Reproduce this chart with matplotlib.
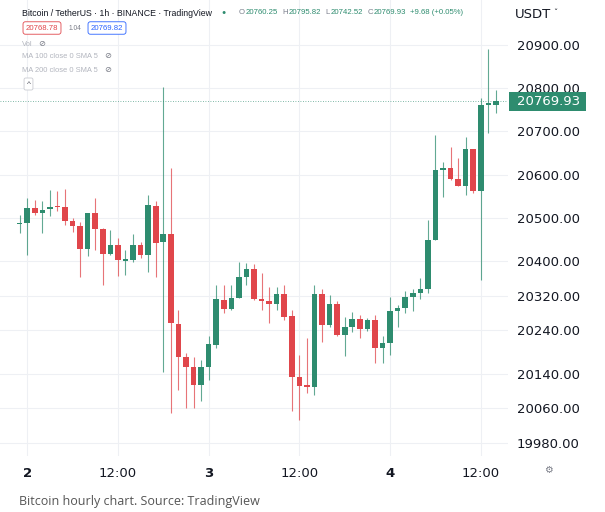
import matplotlib.pyplot as plt
import matplotlib.transforms as mtransforms
from matplotlib.patches import Rectangle
import numpy as np

# hourly candles (USDT)
opens = [20485, 20489, 20522, 20511, 20520, 20527, 20526, 20493, 20482, 20427,
         20511, 20474, 20416, 20437, 20401, 20403, 20437, 20415, 20528, 20444,
         20462, 20255, 20179, 20155, 20113, 20155, 20207, 20311, 20290, 20315,
         20364, 20383, 20312, 20308, 20302, 20324, 20272, 20133, 20113, 20110,
         20324, 20253, 20300, 20230, 20247, 20266, 20242, 20264, 20198, 20211,
         20285, 20292, 20318, 20327, 20335, 20449, 20612, 20616, 20589, 20574,
         20659, 20563, 20762, 20760.25]
highs = [20507, 20545, 20541, 20539, 20565, 20562, 20568, 20500, 20490, 20512,
         20545, 20476, 20472, 20453, 20426, 20462, 20444, 20553, 20538, 20803,
         20615, 20287, 20188, 20178, 20171, 20227, 20345, 20345, 20345, 20397,
         20396, 20393, 20372, 20340, 20340, 20345, 20287, 20183, 20223, 20345,
         20335, 20322, 20308, 20271, 20283, 20275, 20268, 20275, 20227, 20316,
         20299, 20332, 20335, 20360, 20495, 20692, 20630, 20665, 20638, 20688,
         20660, 20777, 20890, 20795.82]
lows = [20465, 20414, 20507, 20464, 20505, 20516, 20484, 20468, 20364, 20413,
        20426, 20346, 20414, 20366, 20368, 20399, 20407, 20376, 20363, 20144,
        20049, 20102, 20061, 20061, 20077, 20125, 20198, 20281, 20288, 20314,
        20345, 20310, 20287, 20256, 20287, 20265, 20053, 20032, 20094, 20090,
        20214, 20247, 20227, 20181, 20237, 20223, 20239, 20164, 20164, 20183,
        20248, 20279, 20285, 20312, 20327, 20449, 20549, 20588, 20574, 20553,
        20557, 20356, 20696, 20742.52]
closes = [20489, 20524, 20511, 20518, 20525, 20525, 20494, 20482, 20427, 20511,
          20474, 20416, 20437, 20402, 20405, 20437, 20414, 20529, 20443, 20462,
          20256, 20179, 20156, 20113, 20155, 20208, 20312, 20290, 20314, 20364,
          20383, 20312, 20308, 20302, 20324, 20271, 20133, 20112, 20110, 20324,
          20252, 20300, 20229, 20247, 20266, 20242, 20264, 20198, 20211, 20285,
          20292, 20318, 20327, 20335, 20449, 20612, 20616, 20589, 20574, 20659,
          20563, 20761, 20766, 20769.93]

price_ticks = [20900, 20800, 20700, 20600, 20500, 20400, 20320, 20240, 20140, 20060, 19980]
date_pos = [1, 13, 25, 37, 49, 61]
date_labels = ["2", "12:00", "3", "12:00", "4", "12:00"]
last_price = 20769.93
bid, ask, spread = "20768.78", "20769.82", "1.04"
ohlc_keys = ["O", "H", "L", "C"]
ohlc_vals = ["20760.25", "20795.82", "20742.52", "20769.93"]
change = "+9.68 (+0.05%)"

UP = "#2e8c6f"
DOWN = "#e0464b"
GRID = "#eef0f4"
TXT = "#131722"
SCALE_FONT = ["DejaVu Sans"]

plt.rcParams["font.family"] = ["Liberation Sans", "DejaVu Sans"]

fig = plt.figure(figsize=(6.05, 5.12), dpi=100)
ax = fig.add_axes([0, 1 - 456 / 512, 508 / 605, 456 / 512])

o = np.array(opens)
h = np.array(highs)
l = np.array(lows)
c = np.array(closes)
x = np.arange(len(o))
up = c >= o
cols = np.where(up, UP, DOWN)

ax.vlines(x, l, h, colors=cols, linewidth=0.8, alpha=0.75, zorder=3)
body_lo = np.minimum(o, c)
body_h = np.maximum(np.abs(c - o), 2.3)
ax.bar(x, body_h, bottom=body_lo, width=0.74, color=cols, linewidth=0, zorder=4)

ax.set_xlim(-2.6, 64.6)
ax.set_ylim(19949.3, 21004.1)

for p in price_ticks:
    ax.axhline(p, color=GRID, linewidth=0.8, zorder=0)
for d in date_pos:
    ax.axvline(d, color=GRID, linewidth=0.8, zorder=0)

ax.axhline(last_price, color=UP, linewidth=0.6, linestyle=(0, (1, 2)), alpha=0.8, zorder=2)

for s in ax.spines.values():
    s.set_visible(False)

ax.yaxis.tick_right()
ax.set_yticks(price_ticks)
ax.set_yticklabels([f"{p:.2f}" for p in price_ticks], fontsize=9.5, color=TXT, family=SCALE_FONT)
ax.tick_params(axis="y", length=0, pad=6.5)

ax.set_xticks(date_pos)
ax.set_xticklabels(date_labels, fontsize=9.5, color=TXT, family=SCALE_FONT)
ax.tick_params(axis="x", length=0, pad=8)
for lab in ax.get_xticklabels():
    if ":" not in lab.get_text():
        lab.set_fontweight("bold")

# last price box on the price scale
tr = mtransforms.blended_transform_factory(ax.transAxes, ax.transData)
ax.add_patch(Rectangle((1.002, last_price), 77 / 508, 1, transform=tr, clip_on=False,
                       facecolor="none", edgecolor="none"))
box_h = 19 * (21004.1 - 19949.3) / 456
ax.add_patch(Rectangle((1.002, last_price - box_h / 2), 77 / 508, box_h, transform=tr,
                       clip_on=False, facecolor=UP, edgecolor="none", zorder=9))
ax.text(1 + 9 / 508, last_price, f"{last_price:.2f}", transform=tr, ha="left", va="center",
        fontsize=9.5, color="white", zorder=10, clip_on=False, family=SCALE_FONT)

# header
hy = 1 - 13 / 512
fig.text(22 / 605, hy, "Bitcoin / TetherUS · 1h · BINANCE · TradingView",
         fontsize=6.3, color=TXT, va="center")
fig.text(224 / 605, 1 - 12 / 512, "●", fontsize=5, color=UP, va="center", ha="center")

fig.canvas.draw()
rend = fig.canvas.get_renderer()
px = 239
for k, v in zip(ohlc_keys, ohlc_vals):
    t = fig.text(px / 605, hy, k, fontsize=5.6, color="#7a7f8c", va="center")
    px = t.get_window_extent(rend).x1 + 1
    t = fig.text(px / 605, hy, v, fontsize=5.6, color=UP, va="center")
    px = t.get_window_extent(rend).x1 + 4
fig.text(px / 605, hy, change, fontsize=5.6, color=UP, va="center")

fig.text(42 / 605, 1 - 28 / 512, bid, fontsize=5.6, color=DOWN, va="center", ha="center",
         bbox=dict(boxstyle="round,pad=0.35,rounding_size=0.3", facecolor="white", edgecolor=DOWN, linewidth=0.6))
fig.text(74.5 / 605, 1 - 28 / 512, spread, fontsize=4.8, color="#787b86", va="center", ha="center")
fig.text(107 / 605, 1 - 28 / 512, ask, fontsize=5.6, color="#2962ff", va="center", ha="center",
         bbox=dict(boxstyle="round,pad=0.35,rounding_size=0.3", facecolor="white", edgecolor="#2962ff", linewidth=0.6))

fig.text(22 / 605, 1 - 44 / 512, "Vol", fontsize=5.4, color="#b2b5be", va="center")
fig.text(22 / 605, 1 - 57 / 512, "MA 100 close 0 SMA 5", fontsize=5.4, color="#b2b5be", va="center")
fig.text(22 / 605, 1 - 71 / 512, "MA 200 close 0 SMA 5", fontsize=5.4, color="#b2b5be", va="center")
for ex, ey in [(42, 44), (108, 57), (108, 71)]:
    fig.text(ex / 605, 1 - ey / 512, "⊘", fontsize=6, color="#787b86", va="center", ha="center")
fig.text(28.5 / 605, 1 - 84 / 512, "^", fontsize=6, color="#50535e", va="center", ha="center",
         bbox=dict(boxstyle="round,pad=0.3,rounding_size=0.2", facecolor="white", edgecolor="#c9cbd1", linewidth=0.6))

fig.text(515 / 605, 1 - 15 / 512, "USDT", fontsize=9.5, color=TXT, va="center", family=SCALE_FONT)
fig.text(553 / 605, 1 - 14 / 512, "ˇ", fontsize=6, color=TXT, va="center", family=SCALE_FONT)
fig.text(548 / 605, 1 - 470 / 512, "⚙", fontsize=7, color="#787b86", va="center", ha="center")

fig.text(19 / 605, 1 - 501 / 512, "Bitcoin hourly chart. Source: TradingView",
         fontsize=9, color="#555555", va="center", family=["Open Sans", "DejaVu Sans"])

fig.savefig("out.png", dpi=100)
